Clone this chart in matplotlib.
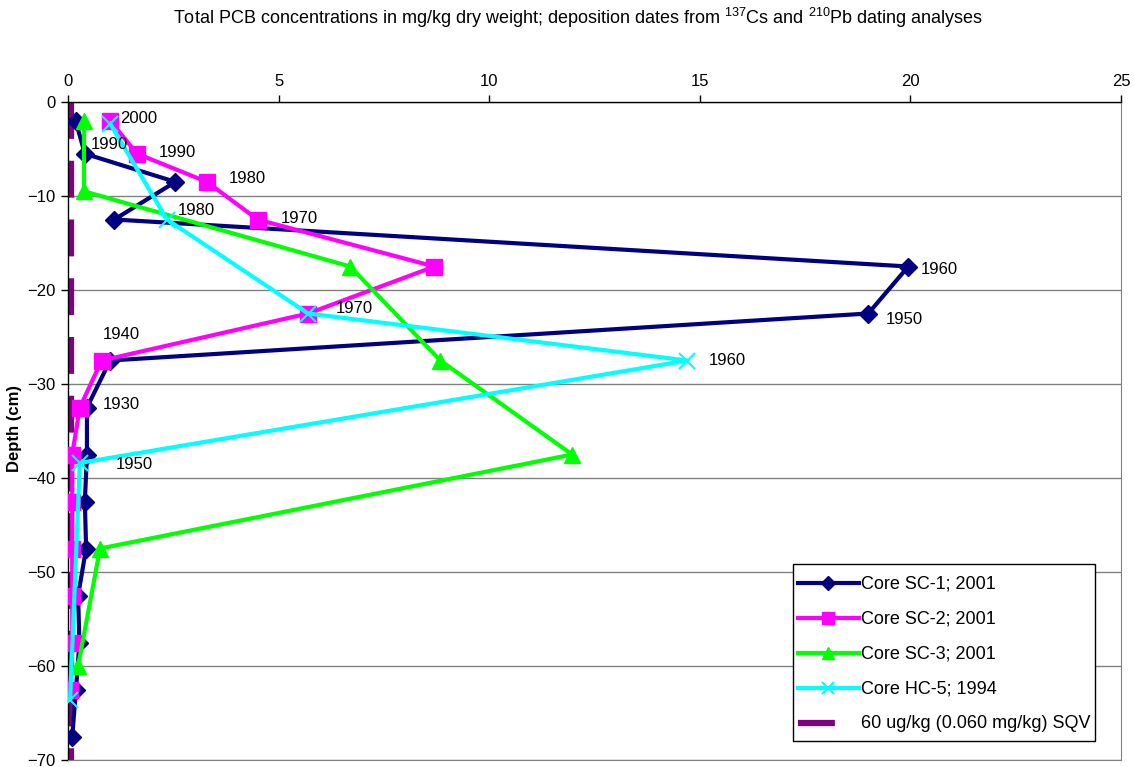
import matplotlib
matplotlib.use("Agg")
from matplotlib import pyplot as plt
from matplotlib.lines import Line2D
from matplotlib.transforms import Affine2D

plt.rcParams["font.family"] = ["Liberation Sans", "DejaVu Sans"]
plt.rcParams["mathtext.fontset"] = "custom"
plt.rcParams["mathtext.rm"] = "Liberation Sans"

# data (concentration mg/kg, depth cm)
sc1_depth = [-2, -5.5, -8.5, -12.5, -17.5, -22.5, -27.5, -32.5, -37.5, -42.5, -47.5, -52.5, -57.5, -62.5, -67.5]
sc1_conc = [0.18, 0.4, 2.55, 1.1, 19.95, 19.0, 1.0, 0.45, 0.45, 0.4, 0.43, 0.24, 0.27, 0.19, 0.1]

sc2_depth = [-2, -5.5, -8.5, -12.5, -17.5, -22.5, -27.5, -32.5, -37.5, -42.5, -47.5, -52.5, -57.5, -62.5]
sc2_conc = [1.0, 1.64, 3.3, 4.5, 8.7, 5.7, 0.8, 0.28, 0.1, 0.1, 0.1, 0.1, 0.1, 0.05]

sc3_depth = [-2, -9.5, -17.5, -27.5, -37.5, -47.5, -60]
sc3_conc = [0.38, 0.38, 6.7, 8.84, 11.97, 0.76, 0.24]

hc5_depth = [-2.3, -12.5, -22.5, -27.5, -38.4, -63.6]
hc5_conc = [1.0, 2.35, 5.7, 14.7, 0.28, 0.05]

sqv_value = 0.06
sqv_depth = [0, -70]

series_names = ["Core SC-1; 2001", "Core SC-2; 2001", "Core SC-3; 2001", "Core HC-5; 1994"]
sqv_name = "60 ug/kg (0.060 mg/kg) SQV"

# date labels: (text, series index, point index, dx px, dy px)
date_labels = [
    ("2000", 1, 0, 10, 2),
    ("1990", 0, 1, 6, 9),
    ("1990", 1, 1, 22, 1),
    ("1980", 1, 2, 22, 3),
    ("1980", 3, 1, 11, 9),
    ("1970", 1, 3, 23, 1),
    ("1960", 0, 4, 12, -3),
    ("1950", 0, 5, 17, -6),
    ("1970", 1, 5, 28, 5),
    ("1940", 1, 6, 1, 26),
    ("1960", 3, 3, 22, 0),
    ("1930", 0, 7, 16, 3),
    ("1950", 3, 4, 36, -2),
]

fig = plt.figure(figsize=(11.34, 7.67), dpi=100)
ax = fig.add_axes([68 / 1134, 7 / 767, 1053 / 1134, 658 / 767])

# SQV line
ax.plot([sqv_value, sqv_value], sqv_depth, color="#800080", lw=4.5,
        dashes=(5.9, 3.5), solid_capstyle="butt", dash_capstyle="butt", zorder=2)

styles = [
    dict(color="#000080", marker="D", ms=9.5),
    dict(color="#FF00FF", marker="s", ms=11),
    dict(color="#00FF00", marker="^", ms=11),
    dict(color="#00FFFF", marker="x", ms=11, mew=1.5),
]
depths = [sc1_depth, sc2_depth, sc3_depth, hc5_depth]
concs = [sc1_conc, sc2_conc, sc3_conc, hc5_conc]

handles = []
for name, d, c, st in zip(series_names, depths, concs, styles):
    h, = ax.plot(c, d, lw=3, label=name, zorder=3, **st)
    handles.append(h)
# legend entry for the SQV line shows just one dash
handles.append(Line2D([], [], color="#800080", lw=4.5, dashes=(5.9, 6),
                      dash_capstyle="butt"))

for txt, si, pi, dx, dy in date_labels:
    ax.annotate(txt, (concs[si][pi], depths[si][pi]), xytext=(dx * 0.72, dy * 0.72),
                textcoords="offset points", ha="left", va="center", fontsize=12, zorder=5)

ax.set_xlim(0, 25)
ax.set_ylim(-70, 0)
ax.set_xticks(range(0, 26, 5))
ax.set_yticks(range(-70, 1, 10))
ax.xaxis.tick_top()
ax.tick_params(labelsize=12, length=5, width=1, direction="out", pad=4)
ax.yaxis.grid(True, color="#808080", lw=1)
ax.set_axisbelow(True)
ax.spines["right"].set_color("#808080")
ax.spines["bottom"].set_color("#808080")
ax.spines["left"].set_linewidth(1)
ax.spines["top"].set_linewidth(1)

fig.text(15 / 1134, 1 - 428 / 767, "Depth (cm)", rotation=90, ha="center", va="center",
         fontsize=12, fontweight="bold")

fig.text(578 / 1134, 1 - 18 / 767,
         "Total PCB concentrations in mg/kg dry weight; deposition dates from $^{137}$Cs and $^{210}$Pb dating analyses",
         ha="center", va="center", fontsize=13)

leg = ax.legend(handles=handles, labels=series_names + [sqv_name],
                loc="upper left", bbox_to_anchor=(793 / 1134, 1 - 564 / 767),
                bbox_transform=fig.transFigure, fontsize=13, frameon=True, fancybox=False,
                edgecolor="black", framealpha=1, borderaxespad=0, handlelength=3.4,
                handleheight=2.0, handletextpad=0.1, labelspacing=0.39, borderpad=0.25,
                markerscale=0.8)
leg.get_frame().set_linewidth(1)
# move the legend lines down so they sit level with the text
for lh in leg.legend_handles:
    lh.set_transform(Affine2D().translate(0, -3.6) + lh.get_transform())

fig.savefig("out.png", dpi=100)
